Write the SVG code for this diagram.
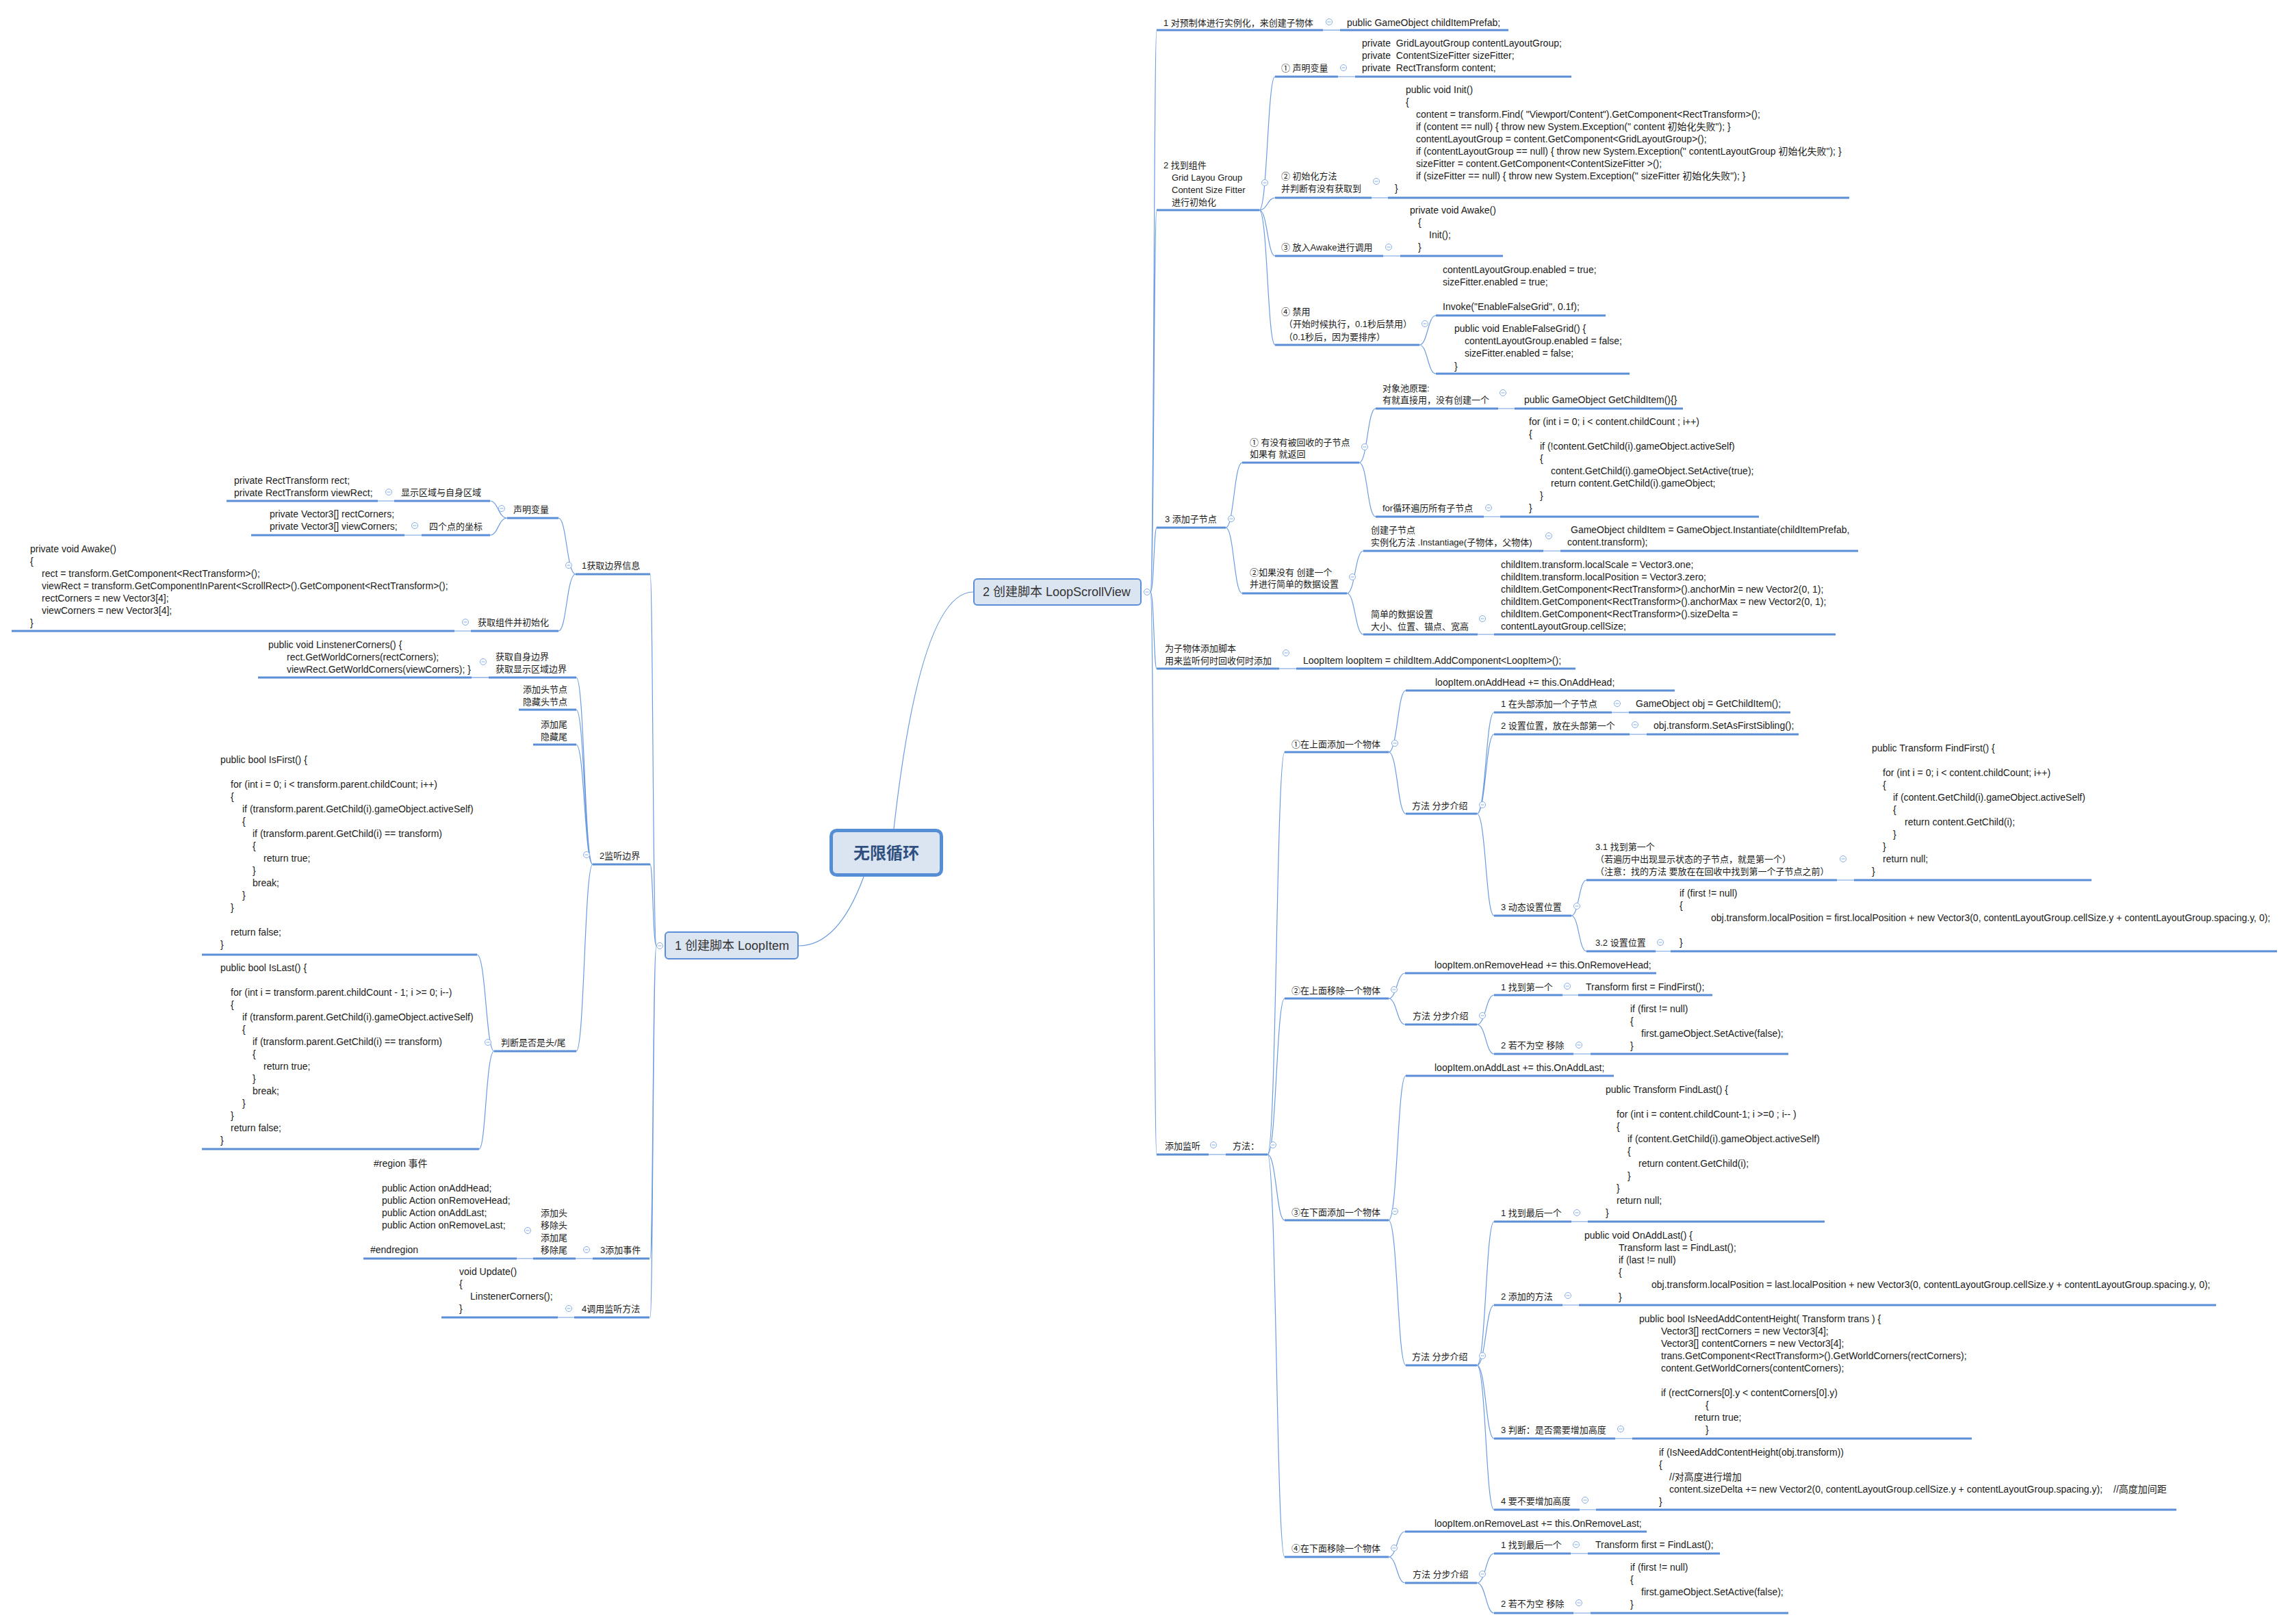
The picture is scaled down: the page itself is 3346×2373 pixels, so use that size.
<svg xmlns="http://www.w3.org/2000/svg" width="3346" height="2373" viewBox="0 0 3346 2373">
<style>
.t{font-family:"Liberation Sans","Noto Sans CJK SC",sans-serif;font-size:14px;fill:#1b1b1b}
.z{font-size:13px}
.u{stroke:#5b8ed6;stroke-width:3;fill:none}
.c{stroke:#6c9be0;stroke-width:1.2;fill:none}
.n1{fill:#dbe5f1;stroke:#5b8ed6;stroke-width:2}
.h{font-size:18px;fill:#333}
</style>
<defs><g id="m"><circle r="4.5" fill="#fff" stroke="#86aee6" stroke-width="1"/><path d="M-2.5 0H2.5" stroke="#86aee6" stroke-width="1"/></g></defs>
<rect width="3346" height="2373" fill="#fff"/>
<g id="connectors">
<path class="c" d="M1306 1211Q1345 865 1422 865"/>
<path class="c" d="M1262 1281Q1225 1382 1167 1382"/>
<path class="c" d="M1681 865C1686 865 1686 44 1690 44M1681 865C1686 865 1686 307 1690 307M1681 865C1686 865 1686 771 1690 771M1681 865C1686 865 1686 977 1690 977M1681 865C1686 865 1686 1687 1690 1687"/>
<path class="c" d="M1933 44H1958"/>
<path class="c" d="M1840 307C1852 307 1852 112 1863 112M1840 307C1852 307 1852 289 1863 289M1840 307C1852 307 1852 374 1863 374M1840 307C1852 307 1852 504 1863 504"/>
<path class="c" d="M1955 112H1980M2004 289H2028M2021 374H2046"/>
<path class="c" d="M2074 504C2086 504 2086 461 2098 461M2074 504C2086 504 2086 546 2098 546"/>
<path class="c" d="M1791 771C1803 771 1803 676 1815 676M1791 771C1803 771 1803 867 1815 867"/>
<path class="c" d="M1986 676C1998 676 1998 597 2010 597M1986 676C1998 676 1998 755 2010 755"/>
<path class="c" d="M2189 597H2213M2168 755H2192"/>
<path class="c" d="M1968 867C1980 867 1980 805 1992 805M1968 867C1980 867 1980 927 1992 927"/>
<path class="c" d="M2255 805H2280M2159 927H2183M1869 977H1894M1766 1687H1791"/>
<path class="c" d="M1852 1687C1865 1687 1865 1099 1877 1099M1852 1687C1865 1687 1865 1459 1877 1459M1852 1687C1865 1687 1865 1783 1877 1783M1852 1687C1865 1687 1865 2275 1877 2275"/>
<path class="c" d="M2029 1099C2042 1099 2042 1009 2054 1009M2029 1099C2042 1099 2042 1189 2054 1189"/>
<path class="c" d="M2158 1189C2171 1189 2171 1041 2183 1041M2158 1189C2171 1189 2171 1073 2183 1073M2158 1189C2171 1189 2171 1338 2183 1338"/>
<path class="c" d="M2355 1041H2380M2381 1073H2406"/>
<path class="c" d="M2296 1338C2307 1338 2307 1286 2318 1286M2296 1338C2307 1338 2307 1390 2318 1390"/>
<path class="c" d="M2684 1286H2709M2419 1390H2441"/>
<path class="c" d="M2029 1459C2041 1459 2041 1422 2053 1422M2029 1459C2041 1459 2041 1497 2053 1497"/>
<path class="c" d="M2158 1497C2171 1497 2171 1454 2183 1454M2158 1497C2171 1497 2171 1540 2183 1540"/>
<path class="c" d="M2283 1454H2306M2299 1540H2324"/>
<path class="c" d="M2029 1783C2042 1783 2042 1572 2054 1572M2029 1783C2042 1783 2042 1995 2054 1995"/>
<path class="c" d="M2158 1995C2171 1995 2171 1785 2183 1785M2158 1995C2171 1995 2171 1907 2183 1907M2158 1995C2171 1995 2171 2102 2183 2102M2158 1995C2171 1995 2171 2206 2183 2206"/>
<path class="c" d="M2296 1785H2320M2283 1907H2307M2360 2102H2385M2308 2206H2332"/>
<path class="c" d="M2029 2275C2041 2275 2041 2238 2053 2238M2029 2275C2041 2275 2041 2313 2053 2313"/>
<path class="c" d="M2158 2313C2171 2313 2171 2270 2183 2270M2158 2313C2171 2313 2171 2357 2183 2357"/>
<path class="c" d="M2295 2270H2320M2299 2357H2324"/>
<path class="c" d="M959 1382C954 1382 954 839 950 839M959 1382C954 1382 954 1263 950 1263M959 1382C954 1382 954 1839 950 1839M959 1382C954 1382 954 1925 950 1925"/>
<path class="c" d="M841 839C828 839 828 757 816 757M841 839C828 839 828 922 816 922"/>
<path class="c" d="M741 757C728 757 728 732 716 732M741 757C728 757 728 782 716 782"/>
<path class="c" d="M576 732H552M616 782H591M688 922H664"/>
<path class="c" d="M866 1263C854 1263 854 990 842 990M866 1263C854 1263 854 1037 842 1037M866 1263C854 1263 854 1088 842 1088M866 1263C854 1263 854 1536 842 1536"/>
<path class="c" d="M714 990H689"/>
<path class="c" d="M722 1536C710 1536 710 1395 697 1395M722 1536C710 1536 710 1679 700 1679"/>
<path class="c" d="M866 1839H841M779 1839H755M839 1925H815"/>
</g>

<g id="root"><rect x="1214.5" y="1213.5" width="161" height="65" rx="8" fill="#dbe5f1" stroke="#558ed5" stroke-width="5"/><text class="t" x="1295" y="1255" text-anchor="middle" style="font-size:24px;font-weight:bold;fill:#2f4f7f">无限循环</text></g>
<g id="n-loopscrollview"><rect class="n1" x="1423" y="846" width="244" height="38" rx="5"/><text class="t h" x="1436" y="871">2 创建脚本 LoopScrollView</text><use href="#m" x="1676" y="865"/></g>
<g id="n-loopitem"><rect class="n1" x="972" y="1362" width="194" height="39" rx="5"/><text class="t h" x="986" y="1388">1 创建脚本 LoopItem</text><use href="#m" x="964" y="1382"/></g>

<!-- Right side -->
<g id="a1"><path class="u" d="M1690 44H1933"/><text class="t z" x="1700" y="38">1 对预制体进行实例化，来创建子物体</text><use href="#m" x="1942" y="32"/></g>
<g id="a1c"><path class="u" d="M1958 44H2204"/><text class="t" x="1968" y="38">public GameObject childItemPrefab;</text></g>

<g id="a2"><path class="u" d="M1690 307H1840"/><text class="t z"><tspan x="1700" y="246">2 找到组件</tspan><tspan x="1712" y="264">Grid Layou Group</tspan><tspan x="1712" y="282">Content Size Fitter</tspan><tspan x="1712" y="300">进行初始化</tspan></text><use href="#m" x="1848" y="267"/></g>
<g id="a2a"><path class="u" d="M1863 112H1955"/><text class="t z" x="1872" y="104">① 声明变量</text><use href="#m" x="1963" y="99"/></g>
<g id="a2ac"><path class="u" d="M1980 112H2296"/><text class="t" xml:space="preserve"><tspan x="1990" y="68">private  GridLayoutGroup contentLayoutGroup;</tspan><tspan x="1990" y="86">private  ContentSizeFitter sizeFitter;</tspan><tspan x="1990" y="104">private  RectTransform content;</tspan></text></g>
<g id="a2b"><path class="u" d="M1863 289H2004"/><text class="t z"><tspan x="1872" y="262">② 初始化方法</tspan><tspan x="1872" y="280">并判断有没有获取到</tspan></text><use href="#m" x="2011" y="265"/></g>
<g id="a2bc"><path class="u" d="M2028 289H2702"/><text class="t"><tspan x="2054" y="136">public void Init()</tspan><tspan x="2054" y="154">{</tspan><tspan x="2069" y="172">content = transform.Find( "Viewport/Content").GetComponent&lt;RectTransform&gt;();</tspan><tspan x="2069" y="190">if (content == null) { throw new System.Exception(" content 初始化失败"); }</tspan><tspan x="2069" y="208">contentLayoutGroup = content.GetComponent&lt;GridLayoutGroup&gt;();</tspan><tspan x="2069" y="226">if (contentLayoutGroup == null) { throw new System.Exception(" contentLayoutGroup 初始化失败"); }</tspan><tspan x="2069" y="244">sizeFitter = content.GetComponent&lt;ContentSizeFitter &gt;();</tspan><tspan x="2069" y="262">if (sizeFitter == null) { throw new System.Exception(" sizeFitter 初始化失败"); }</tspan><tspan x="2038" y="280">}</tspan></text></g>
<g id="a2c"><path class="u" d="M1863 374H2021"/><text class="t z" x="1872" y="366">③ 放入Awake进行调用</text><use href="#m" x="2029" y="361"/></g>
<g id="a2cc"><path class="u" d="M2046 374H2196"/><text class="t"><tspan x="2060" y="312">private void Awake()</tspan><tspan x="2072" y="330">{</tspan><tspan x="2088" y="348">Init();</tspan><tspan x="2072" y="366">}</tspan></text></g>
<g id="a2d"><path class="u" d="M1863 504H2074"/><text class="t z"><tspan x="1872" y="460">④ 禁用</tspan><tspan x="1876" y="478">（开始时候执行，0.1秒后禁用）</tspan><tspan x="1876" y="497">（0.1秒后，因为要排序）</tspan></text><use href="#m" x="2082" y="473"/></g>
<g id="a2d1"><path class="u" d="M2098 461H2346"/><text class="t"><tspan x="2108" y="399">contentLayoutGroup.enabled = true;</tspan><tspan x="2108" y="417">sizeFitter.enabled = true;</tspan><tspan x="2108" y="453">Invoke("EnableFalseGrid", 0.1f);</tspan></text></g>
<g id="a2d2"><path class="u" d="M2098 546H2381"/><text class="t"><tspan x="2125" y="485">public void EnableFalseGrid() {</tspan><tspan x="2140" y="503">contentLayoutGroup.enabled = false;</tspan><tspan x="2140" y="521">sizeFitter.enabled = false;</tspan><tspan x="2125" y="540">}</tspan></text></g>

<g id="a3"><path class="u" d="M1690 771H1791"/><text class="t z" x="1702" y="763">3 添加子节点</text><use href="#m" x="1799" y="758"/></g>
<g id="a3a"><path class="u" d="M1815 676H1986"/><text class="t z"><tspan x="1826" y="651">① 有没有被回收的子节点</tspan><tspan x="1826" y="668">如果有 就返回</tspan></text><use href="#m" x="1994" y="653"/></g>
<g id="a3a1"><path class="u" d="M2010 597H2189"/><text class="t z"><tspan x="2020" y="572">对象池原理:</tspan><tspan x="2020" y="589">有就直接用，没有创建一个</tspan></text><use href="#m" x="2196" y="574"/></g>
<g id="a3a1c"><path class="u" d="M2213 597H2459"/><text class="t" x="2227" y="589">public GameObject GetChildItem(){}</text></g>
<g id="a3a2"><path class="u" d="M2010 755H2168"/><text class="t z" x="2020" y="747">for循环遍历所有子节点</text><use href="#m" x="2175" y="742"/></g>
<g id="a3a2c"><path class="u" d="M2192 755H2570"/><text class="t"><tspan x="2234" y="621">for (int i = 0; i &lt; content.childCount ; i++)</tspan><tspan x="2234" y="639">{</tspan><tspan x="2250" y="657">if (!content.GetChild(i).gameObject.activeSelf)</tspan><tspan x="2250" y="675">{</tspan><tspan x="2266" y="693">content.GetChild(i).gameObject.SetActive(true);</tspan><tspan x="2266" y="711">return content.GetChild(i).gameObject;</tspan><tspan x="2250" y="729">}</tspan><tspan x="2234" y="747">}</tspan></text></g>
<g id="a3b"><path class="u" d="M1815 867H1968"/><text class="t z"><tspan x="1826" y="841">②如果没有 创建一个</tspan><tspan x="1826" y="858">并进行简单的数据设置</tspan></text><use href="#m" x="1976" y="843"/></g>
<g id="a3b1"><path class="u" d="M1992 805H2255"/><text class="t z"><tspan x="2003" y="779">创建子节点</tspan><tspan x="2003" y="797">实例化方法 .Instantiage(子物体，父物体)</tspan></text><use href="#m" x="2263" y="783"/></g>
<g id="a3b1c"><path class="u" d="M2280 805H2715"/><text class="t"><tspan x="2295" y="779">GameObject childItem = GameObject.Instantiate(childItemPrefab,</tspan><tspan x="2290" y="797">content.transform);</tspan></text></g>
<g id="a3b2"><path class="u" d="M1992 927H2159"/><text class="t z"><tspan x="2003" y="902">简单的数据设置</tspan><tspan x="2003" y="920">大小、位置、锚点、宽高</tspan></text><use href="#m" x="2166" y="904"/></g>
<g id="a3b2c"><path class="u" d="M2183 927H2682"/><text class="t"><tspan x="2193" y="830">childItem.transform.localScale = Vector3.one;</tspan><tspan x="2193" y="848">childItem.transform.localPosition = Vector3.zero;</tspan><tspan x="2193" y="866">childItem.GetComponent&lt;RectTransform&gt;().anchorMin = new Vector2(0, 1);</tspan><tspan x="2193" y="884">childItem.GetComponent&lt;RectTransform&gt;().anchorMax = new Vector2(0, 1);</tspan><tspan x="2193" y="902">childItem.GetComponent&lt;RectTransform&gt;().sizeDelta =</tspan><tspan x="2193" y="920">contentLayoutGroup.cellSize;</tspan></text></g>

<g id="a4"><path class="u" d="M1690 977H1869"/><text class="t z"><tspan x="1702" y="952">为子物体添加脚本</tspan><tspan x="1702" y="970">用来监听何时回收何时添加</tspan></text><use href="#m" x="1879" y="954"/></g>
<g id="a4c"><path class="u" d="M1894 977H2302"/><text class="t" x="1904" y="970">LoopItem loopItem = childItem.AddComponent&lt;LoopItem&gt;();</text></g>

<g id="a5"><path class="u" d="M1690 1687H1766"/><text class="t z" x="1702" y="1679">添加监听</text><use href="#m" x="1773" y="1673"/></g>
<g id="a5m"><path class="u" d="M1791 1687H1852"/><text class="t z" x="1801" y="1679">方法：</text><use href="#m" x="1860" y="1673"/></g>

<g id="b1"><path class="u" d="M1877 1099H2029"/><text class="t z" x="1887" y="1092">①在上面添加一个物体</text><use href="#m" x="2038" y="1086"/></g>
<g id="b1a"><path class="u" d="M2054 1009H2447"/><text class="t" x="2097" y="1002">loopItem.onAddHead += this.OnAddHead;</text></g>
<g id="b1b"><path class="u" d="M2054 1189H2158"/><text class="t z" x="2063" y="1182">方法 分步介绍</text><use href="#m" x="2166" y="1176"/></g>
<g id="b1b1"><path class="u" d="M2183 1041H2355"/><text class="t z" x="2193" y="1033">1 在头部添加一个子节点</text><use href="#m" x="2363" y="1028"/></g>
<g id="b1b1c"><path class="u" d="M2380 1041H2616"/><text class="t" x="2390" y="1033">GameObject obj = GetChildItem();</text></g>
<g id="b1b2"><path class="u" d="M2183 1073H2381"/><text class="t z" x="2193" y="1065">2 设置位置，放在头部第一个</text><use href="#m" x="2389" y="1059"/></g>
<g id="b1b2c"><path class="u" d="M2406 1073H2628"/><text class="t" x="2416" y="1065">obj.transform.SetAsFirstSibling();</text></g>
<g id="b1b3"><path class="u" d="M2183 1338H2296"/><text class="t z" x="2193" y="1330">3 动态设置位置</text><use href="#m" x="2304" y="1324"/></g>
<g id="b1b3a"><path class="u" d="M2318 1286H2684"/><text class="t z"><tspan x="2331" y="1242">3.1 找到第一个</tspan><tspan x="2331" y="1260">（若遍历中出现显示状态的子节点，就是第一个）</tspan><tspan x="2331" y="1278">（注意：找的方法 要放在在回收中找到第一个子节点之前）</tspan></text><use href="#m" x="2693" y="1255"/></g>
<g id="b1b3ac"><path class="u" d="M2709 1286H3056"/><text class="t"><tspan x="2735" y="1098">public Transform FindFirst() {</tspan><tspan x="2751" y="1134">for (int i = 0; i &lt; content.childCount; i++)</tspan><tspan x="2751" y="1152">{</tspan><tspan x="2766" y="1170">if (content.GetChild(i).gameObject.activeSelf)</tspan><tspan x="2766" y="1188">{</tspan><tspan x="2783" y="1206">return content.GetChild(i);</tspan><tspan x="2766" y="1224">}</tspan><tspan x="2751" y="1242">}</tspan><tspan x="2751" y="1260">return null;</tspan><tspan x="2735" y="1278">}</tspan></text></g>
<g id="b1b3b"><path class="u" d="M2318 1390H2419"/><text class="t z" x="2331" y="1382">3.2 设置位置</text><use href="#m" x="2426" y="1377"/></g>
<g id="b1b3bc"><path class="u" d="M2441 1390H3327"/><text class="t"><tspan x="2454" y="1310">if (first != null)</tspan><tspan x="2454" y="1328">{</tspan><tspan x="2500" y="1346">obj.transform.localPosition = first.localPosition + new Vector3(0, contentLayoutGroup.cellSize.y + contentLayoutGroup.spacing.y, 0);</tspan><tspan x="2454" y="1382">}</tspan></text></g>

<g id="b2"><path class="u" d="M1877 1459H2029"/><text class="t z" x="1887" y="1452">②在上面移除一个物体</text><use href="#m" x="2037" y="1446"/></g>
<g id="b2a"><path class="u" d="M2053 1422H2420"/><text class="t" x="2096" y="1415">loopItem.onRemoveHead += this.OnRemoveHead;</text></g>
<g id="b2b"><path class="u" d="M2053 1497H2158"/><text class="t z" x="2064" y="1489">方法 分步介绍</text><use href="#m" x="2166" y="1484"/></g>
<g id="b2b1"><path class="u" d="M2183 1454H2283"/><text class="t z" x="2193" y="1447">1 找到第一个</text><use href="#m" x="2290" y="1441"/></g>
<g id="b2b1c"><path class="u" d="M2306 1454H2502"/><text class="t" x="2317" y="1447">Transform first = FindFirst();</text></g>
<g id="b2b2"><path class="u" d="M2183 1540H2299"/><text class="t z" x="2193" y="1532">2 若不为空 移除</text><use href="#m" x="2307" y="1527"/></g>
<g id="b2b2c"><path class="u" d="M2324 1540H2613"/><text class="t"><tspan x="2382" y="1479">if (first != null)</tspan><tspan x="2382" y="1497">{</tspan><tspan x="2398" y="1515">first.gameObject.SetActive(false);</tspan><tspan x="2382" y="1533">}</tspan></text></g>

<g id="b3"><path class="u" d="M1877 1783H2029"/><text class="t z" x="1887" y="1776">③在下面添加一个物体</text><use href="#m" x="2038" y="1770"/></g>
<g id="b3a"><path class="u" d="M2054 1572H2358"/><text class="t" x="2096" y="1565">loopItem.onAddLast += this.OnAddLast;</text></g>
<g id="b3b"><path class="u" d="M2054 1995H2158"/><text class="t z" x="2063" y="1987">方法 分步介绍</text><use href="#m" x="2166" y="1981"/></g>
<g id="b3b1"><path class="u" d="M2183 1785H2296"/><text class="t z" x="2193" y="1777">1 找到最后一个</text><use href="#m" x="2304" y="1772"/></g>
<g id="b3b1c"><path class="u" d="M2320 1785H2666"/><text class="t"><tspan x="2346" y="1597">public Transform FindLast() {</tspan><tspan x="2362" y="1633">for (int i = content.childCount-1; i &gt;=0 ; i-- )</tspan><tspan x="2362" y="1651">{</tspan><tspan x="2378" y="1669">if (content.GetChild(i).gameObject.activeSelf)</tspan><tspan x="2378" y="1687">{</tspan><tspan x="2394" y="1705">return content.GetChild(i);</tspan><tspan x="2378" y="1723">}</tspan><tspan x="2362" y="1741">}</tspan><tspan x="2362" y="1759">return null;</tspan><tspan x="2346" y="1777">}</tspan></text></g>
<g id="b3b2"><path class="u" d="M2183 1907H2283"/><text class="t z" x="2193" y="1899">2 添加的方法</text><use href="#m" x="2291" y="1893"/></g>
<g id="b3b2c"><path class="u" d="M2307 1907H3238"/><text class="t"><tspan x="2315" y="1810">public void OnAddLast() {</tspan><tspan x="2365" y="1828">Transform last = FindLast();</tspan><tspan x="2365" y="1846">if (last != null)</tspan><tspan x="2365" y="1864">{</tspan><tspan x="2413" y="1882">obj.transform.localPosition = last.localPosition + new Vector3(0, contentLayoutGroup.cellSize.y + contentLayoutGroup.spacing.y, 0);</tspan><tspan x="2365" y="1900">}</tspan></text></g>
<g id="b3b3"><path class="u" d="M2183 2102H2360"/><text class="t z" x="2193" y="2094">3 判断：是否需要增加高度</text><use href="#m" x="2368" y="2088"/></g>
<g id="b3b3c"><path class="u" d="M2385 2102H2881"/><text class="t"><tspan x="2395" y="1932">public bool IsNeedAddContentHeight( Transform trans ) {</tspan><tspan x="2427" y="1950">Vector3[] rectCorners = new Vector3[4];</tspan><tspan x="2427" y="1968">Vector3[] contentCorners = new Vector3[4];</tspan><tspan x="2427" y="1986">trans.GetComponent&lt;RectTransform&gt;().GetWorldCorners(rectCorners);</tspan><tspan x="2427" y="2004">content.GetWorldCorners(contentCorners);</tspan><tspan x="2427" y="2040">if (rectCorners[0].y &lt; contentCorners[0].y)</tspan><tspan x="2492" y="2058">{</tspan><tspan x="2476" y="2076">return true;</tspan><tspan x="2492" y="2094">}</tspan></text></g>
<g id="b3b4"><path class="u" d="M2183 2206H2308"/><text class="t z" x="2193" y="2198">4 要不要增加高度</text><use href="#m" x="2316" y="2192"/></g>
<g id="b3b4c"><path class="u" d="M2332 2206H3180"/><text class="t"><tspan x="2424" y="2127">if (IsNeedAddContentHeight(obj.transform))</tspan><tspan x="2424" y="2145">{</tspan><tspan x="2439" y="2163">//对高度进行增加</tspan><tspan x="2439" y="2181">content.sizeDelta += new Vector2(0, contentLayoutGroup.cellSize.y + contentLayoutGroup.spacing.y);</tspan><tspan x="3088" y="2181">//高度加间距</tspan><tspan x="2424" y="2199">}</tspan></text></g>

<g id="b4"><path class="u" d="M1877 2275H2029"/><text class="t z" x="1887" y="2267">④在下面移除一个物体</text><use href="#m" x="2037" y="2262"/></g>
<g id="b4a"><path class="u" d="M2053 2238H2406"/><text class="t" x="2096" y="2231">loopItem.onRemoveLast += this.OnRemoveLast;</text></g>
<g id="b4b"><path class="u" d="M2053 2313H2158"/><text class="t z" x="2064" y="2305">方法 分步介绍</text><use href="#m" x="2166" y="2300"/></g>
<g id="b4b1"><path class="u" d="M2183 2270H2295"/><text class="t z" x="2193" y="2262">1 找到最后一个</text><use href="#m" x="2303" y="2257"/></g>
<g id="b4b1c"><path class="u" d="M2320 2270H2513"/><text class="t" x="2331" y="2262">Transform first = FindLast();</text></g>
<g id="b4b2"><path class="u" d="M2183 2357H2299"/><text class="t z" x="2193" y="2348">2 若不为空 移除</text><use href="#m" x="2307" y="2342"/></g>
<g id="b4b2c"><path class="u" d="M2324 2357H2613"/><text class="t"><tspan x="2382" y="2295">if (first != null)</tspan><tspan x="2382" y="2313">{</tspan><tspan x="2398" y="2331">first.gameObject.SetActive(false);</tspan><tspan x="2382" y="2349">}</tspan></text></g>

<!-- Left side -->
<g id="l1"><path class="u" d="M841 839H950"/><text class="t z" x="850" y="831">1获取边界信息</text><use href="#m" x="831" y="826"/></g>
<g id="l1a"><path class="u" d="M741 757H816"/><text class="t z" x="750" y="749">声明变量</text><use href="#m" x="733" y="743"/></g>
<g id="l1a1"><path class="u" d="M576 732H716"/><text class="t z" x="586" y="724">显示区域与自身区域</text><use href="#m" x="568" y="719"/></g>
<g id="l1a1c"><path class="u" d="M331 732H552"/><text class="t"><tspan x="342" y="707">private RectTransform rect;</tspan><tspan x="342" y="725">private RectTransform viewRect;</tspan></text></g>
<g id="l1a2"><path class="u" d="M616 782H716"/><text class="t z" x="627" y="774">四个点的坐标</text><use href="#m" x="606" y="768"/></g>
<g id="l1a2c"><path class="u" d="M367 782H591"/><text class="t"><tspan x="394" y="756">private Vector3[] rectCorners;</tspan><tspan x="394" y="774">private Vector3[] viewCorners;</tspan></text></g>
<g id="l1b"><path class="u" d="M688 922H816"/><text class="t z" x="698" y="914">获取组件并初始化</text><use href="#m" x="680" y="909"/></g>
<g id="l1bc"><path class="u" d="M17 922H664"/><text class="t"><tspan x="44" y="807">private void Awake()</tspan><tspan x="44" y="825">{</tspan><tspan x="61" y="843">rect = transform.GetComponent&lt;RectTransform&gt;();</tspan><tspan x="61" y="861">viewRect = transform.GetComponentInParent&lt;ScrollRect&gt;().GetComponent&lt;RectTransform&gt;();</tspan><tspan x="61" y="879">rectCorners = new Vector3[4];</tspan><tspan x="61" y="897">viewCorners = new Vector3[4];</tspan><tspan x="44" y="915">}</tspan></text></g>

<g id="l2"><path class="u" d="M866 1263H950"/><text class="t z" x="876" y="1255">2监听边界</text><use href="#m" x="857" y="1249"/></g>
<g id="l2a"><path class="u" d="M714 990H842"/><text class="t z"><tspan x="724" y="964">获取自身边界</tspan><tspan x="724" y="982">获取显示区域边界</tspan></text><use href="#m" x="706" y="967"/></g>
<g id="l2ac"><path class="u" d="M377 990H689"/><text class="t"><tspan x="392" y="947">public void LinstenerCorners() {</tspan><tspan x="419" y="965">rect.GetWorldCorners(rectCorners);</tspan><tspan x="419" y="983">viewRect.GetWorldCorners(viewCorners); }</tspan></text></g>
<g id="l2b"><path class="u" d="M758 1037H842"/><text class="t z"><tspan x="764" y="1012">添加头节点</tspan><tspan x="764" y="1030">隐藏头节点</tspan></text></g>
<g id="l2c"><path class="u" d="M779 1088H842"/><text class="t z"><tspan x="790" y="1063">添加尾</tspan><tspan x="790" y="1081">隐藏尾</tspan></text></g>
<g id="l2d"><path class="u" d="M722 1536H842"/><text class="t z" x="732" y="1528">判断是否是头/尾</text><use href="#m" x="713" y="1523"/></g>
<g id="l2d1"><path class="u" d="M295 1395H697"/><text class="t"><tspan x="322" y="1115">public bool IsFirst() {</tspan><tspan x="337" y="1151">for (int i = 0; i &lt; transform.parent.childCount; i++)</tspan><tspan x="337" y="1169">{</tspan><tspan x="354" y="1187">if (transform.parent.GetChild(i).gameObject.activeSelf)</tspan><tspan x="354" y="1205">{</tspan><tspan x="369" y="1223">if (transform.parent.GetChild(i) == transform)</tspan><tspan x="369" y="1241">{</tspan><tspan x="385" y="1259">return true;</tspan><tspan x="369" y="1277">}</tspan><tspan x="369" y="1295">break;</tspan><tspan x="354" y="1313">}</tspan><tspan x="337" y="1331">}</tspan><tspan x="337" y="1367">return false;</tspan><tspan x="322" y="1385">}</tspan></text></g>
<g id="l2d2"><path class="u" d="M295 1679H700"/><text class="t"><tspan x="322" y="1419">public bool IsLast() {</tspan><tspan x="337" y="1455">for (int i = transform.parent.childCount - 1; i &gt;= 0; i--)</tspan><tspan x="337" y="1473">{</tspan><tspan x="354" y="1491">if (transform.parent.GetChild(i).gameObject.activeSelf)</tspan><tspan x="354" y="1509">{</tspan><tspan x="369" y="1527">if (transform.parent.GetChild(i) == transform)</tspan><tspan x="369" y="1545">{</tspan><tspan x="385" y="1563">return true;</tspan><tspan x="369" y="1581">}</tspan><tspan x="369" y="1599">break;</tspan><tspan x="354" y="1617">}</tspan><tspan x="337" y="1635">}</tspan><tspan x="337" y="1653">return false;</tspan><tspan x="322" y="1671">}</tspan></text></g>

<g id="l3"><path class="u" d="M866 1839H949"/><text class="t z" x="877" y="1831">3添加事件</text><use href="#m" x="857" y="1826"/></g>
<g id="l3a"><path class="u" d="M779 1839H841"/><text class="t z"><tspan x="790" y="1777">添加头</tspan><tspan x="790" y="1795">移除头</tspan><tspan x="790" y="1813">添加尾</tspan><tspan x="790" y="1831">移除尾</tspan></text><use href="#m" x="771" y="1798"/></g>
<g id="l3ac"><path class="u" d="M531 1839H755"/><text class="t"><tspan x="546" y="1705">#region 事件</tspan><tspan x="558" y="1741">public Action onAddHead;</tspan><tspan x="558" y="1759">public Action onRemoveHead;</tspan><tspan x="558" y="1777">public Action onAddLast;</tspan><tspan x="558" y="1795">public Action onRemoveLast;</tspan><tspan x="541" y="1831">#endregion</tspan></text></g>
<g id="l4"><path class="u" d="M839 1925H949"/><text class="t z" x="850" y="1917">4调用监听方法</text><use href="#m" x="831" y="1912"/></g>
<g id="l4c"><path class="u" d="M645 1925H815"/><text class="t"><tspan x="671" y="1863">void Update()</tspan><tspan x="671" y="1881">{</tspan><tspan x="687" y="1899">LinstenerCorners();</tspan><tspan x="671" y="1917">}</tspan></text></g>
</svg>
